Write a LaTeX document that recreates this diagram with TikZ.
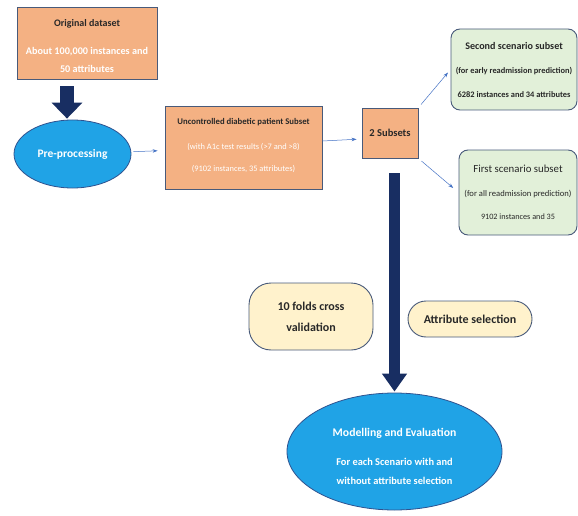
\documentclass[tikz,border=0pt]{standalone}
\usepackage{fontspec}
\setmainfont{Carlito}
\usetikzlibrary{
    shapes.geometric,
    arrows.meta,
    positioning
}
\definecolor{peach}{RGB}{244,177,131}
\definecolor{edgeblue}{RGB}{72,90,122}
\definecolor{palegreen}{RGB}{226,240,217}
\definecolor{cream}{RGB}{255,242,204}
\definecolor{skyblue}{RGB}{32,163,230}
\definecolor{ovaledge}{RGB}{47,82,143}
\definecolor{navy}{RGB}{24,46,98}
\definecolor{linkblue}{RGB}{68,114,196}
\definecolor{darktext}{RGB}{40,40,40}
\tikzset{
    % Data boxes
    databox/.style={
        rectangle,
        draw=edgeblue,
        line width=0.9pt,
        fill=peach,
        align=center,
        inner sep=0pt
    },
    % Scenario subsets
    scenbox/.style={
        rectangle,
        draw=edgeblue,
        line width=0.9pt,
        fill=palegreen,
        rounded corners=9pt,
        align=center,
        inner sep=0pt,
        text=darktext
    },
    % Process ovals
    blueoval/.style={
        ellipse,
        draw=ovaledge,
        line width=0.8pt,
        fill=skyblue,
        align=center,
        inner sep=0pt,
        text=white
    },
    % Options
    optbox/.style={
        rectangle,
        draw=edgeblue,
        line width=0.9pt,
        fill=cream,
        rounded corners=18pt,
        align=center,
        inner sep=0pt,
        text=darktext,
        font=\fontsize{12}{21}\selectfont\bfseries
    },
    % Arrows
    thinarrow/.style={
        -{Stealth[length=5pt,width=3.5pt]},
        line width=0.5pt,
        draw=linkblue
    },
    bigarrow/.style={
        line width=14pt,
        draw=navy,
        -{Triangle[width=30pt,length=16pt]}
    }
}
\begin{document}
\begin{tikzpicture}[x=1pt, y=-1pt]
    \useasboundingbox (0,0) rectangle (578,516);

    % Input data
    \node[databox, minimum width=140pt, minimum height=72pt, text=white,
        font=\fontsize{10.2}{18}\selectfont\bfseries] (orig) at (87,43)
        {\rule{0pt}{12.5pt}\textcolor{darktext}{\fontsize{10}{18}\selectfont Original dataset}\\[10pt]
         About 100,000 instances and\\50 attributes};

    \node[blueoval, minimum width=117pt, minimum height=68pt,
        font=\fontsize{11.5}{13}\selectfont\bfseries] (pre) at (72.5,154) {Pre-processing};

    \node[databox, minimum width=157pt, minimum height=83pt, text=white,
        font=\fontsize{8.4}{22}\selectfont] (uncon) at (243.5,147.5)
        {\textcolor{darktext}{\fontsize{8.7}{22}\selectfont\bfseries Uncontrolled diabetic patient Subset}\\[3pt]
         (with A1c test results (>7 and >8)\\(9102 instances, 35 attributes)\rule[-6pt]{0pt}{0pt}};

    \node[databox, minimum width=56pt, minimum height=50pt, text=darktext,
        font=\fontsize{10.5}{12}\selectfont\bfseries] (subsets) at (390,133) {2 Subsets};

    % Scenarios
    \node[scenbox, minimum width=126pt, minimum height=81pt,
        font=\fontsize{8.4}{24}\selectfont\bfseries] (second) at (514,69.5)
        {{\fontsize{10.1}{24}\selectfont Second scenario subset}\\
         (for early readmission prediction)\\6282 instances and 34 attributes};

    \node[scenbox, minimum width=118pt, minimum height=85pt,
        font=\fontsize{8.6}{23.5}\selectfont] (first) at (518,192.5)
        {{\fontsize{10.8}{23.5}\selectfont First scenario subset}\\
         (for all readmission prediction)\\{\fontsize{8.2}{23.5}\selectfont 9102 instances and 35}};

    % Options
    \node[optbox, minimum width=124pt, minimum height=67pt, rounded corners=22pt] (folds) at (311,316.5)
        {10 folds cross\\validation};
    \node[optbox, minimum width=124pt, minimum height=36pt] (attsel) at (470,319) {Attribute selection};

    % Output
    \node[blueoval, minimum width=215pt, minimum height=117pt,
        font=\fontsize{10.4}{19}\selectfont\bfseries] (model) at (394.5,451.5)
        {\rule{0pt}{18pt}{\fontsize{11.7}{19}\selectfont Modelling and Evaluation}\\[10pt]
         For each Scenario with and\\without attribute selection};

    % Arrows
    \draw[bigarrow, shorten <=7pt, shorten >=1pt] ([xshift=-20pt]orig.south) -- ([xshift=-5.5pt]pre.north);
    \draw[thinarrow, shorten <=2pt, shorten >=7pt] (pre) -- (uncon);
    \draw[thinarrow, shorten >=5pt] ([yshift=6.5pt]uncon.east) -- ([yshift=-6pt]subsets.west);
    \draw[thinarrow, shorten <=4pt, shorten >=4pt] (subsets.north east) -- (second.west);
    \draw[thinarrow, shorten <=4pt, shorten >=7pt] (subsets.south east) -- (first.west);
    \draw[bigarrow, line width=11pt, -{Triangle[width=24pt,length=18pt]},
        shorten <=15pt, shorten >=1pt] ([xshift=4.5pt]subsets.south) -- (model.north);

\end{tikzpicture}
\end{document}
